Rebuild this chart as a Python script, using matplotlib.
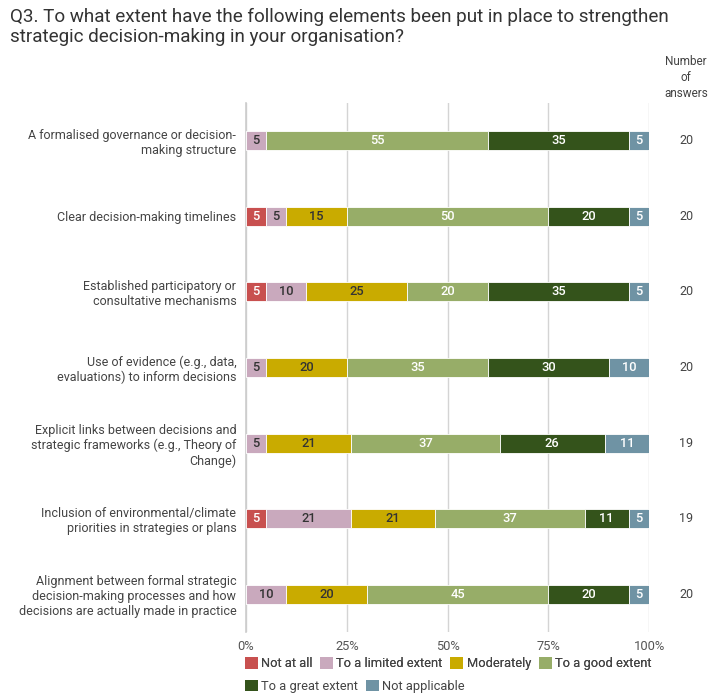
import matplotlib.pyplot as plt
from matplotlib.patches import Patch
import numpy as np

plt.rcParams['font.family'] = ['Roboto', 'DejaVu Sans']

# survey items, top to bottom
questions = [
    "A formalised governance or decision-\nmaking structure",
    "Clear decision-making timelines",
    "Established participatory or\nconsultative mechanisms",
    "Use of evidence (e.g., data,\nevaluations) to inform decisions",
    "Explicit links between decisions and\nstrategic frameworks (e.g., Theory of\nChange)",
    "Inclusion of environmental/climate\npriorities in strategies or plans",
    "Alignment between formal strategic\ndecision-making processes and how\ndecisions are actually made in practice",
]
levels = ["Not at all", "To a limited extent", "Moderately",
          "To a good extent", "To a great extent", "Not applicable"]

# percentage of answers per level
not_at_all = [0, 5, 5, 0, 0, 5, 0]
limited = [5, 5, 10, 5, 5, 21, 10]
moderately = [0, 15, 25, 20, 21, 21, 20]
good = [55, 50, 20, 35, 37, 37, 45]
great = [35, 20, 35, 30, 26, 11, 20]
not_applicable = [5, 5, 5, 10, 11, 5, 5]
n_answers = [20, 20, 20, 20, 19, 19, 20]

colors = ["#c8504f", "#c9a9bd", "#c9ab00", "#97ad68", "#34531b", "#6f93a4"]
text_colors = ["white", "#333333", "#333333", "white", "white", "white"]

series = [not_at_all, limited, moderately, good, great, not_applicable]

fig = plt.figure(figsize=(7.1, 6.98), dpi=100)
ax = fig.add_axes([0.3465, 0.0946, 0.5676, 0.7578])

y = np.arange(len(questions))
left = np.zeros(len(questions))
for vals, col, tcol in zip(series, colors, text_colors):
    vals = np.array(vals, dtype=float)
    ax.barh(y, vals, left=left, height=0.25, color=col,
            edgecolor="white", linewidth=0.6, zorder=3)
    for yi, (l, v) in enumerate(zip(left, vals)):
        if v > 0:
            ax.text(l + v / 2, yi, f"{int(v)}", ha="center", va="center",
                    fontsize=9.3, color=tcol, fontweight="medium", zorder=4)
    left += vals

ax.set_xlim(0, 100)
ax.set_ylim(len(questions) - 0.5, -0.5)
ax.set_xticks([0, 25, 50, 75, 100])
ax.set_xticklabels(["0%", "25%", "50%", "75%", "100%"], color="#555555",
                   fontsize=9.3)
ax.tick_params(axis="x", length=0, pad=6)
ax.set_yticks(y)
ax.set_yticklabels(questions, fontsize=9, color="#444444")
ax.tick_params(axis="y", length=0, pad=7)
ax.grid(axis="x", color="#d4d4d4", linewidth=1, zorder=0)
for s in ["top", "right", "bottom"]:
    ax.spines[s].set_visible(False)
ax.spines["left"].set_color("#cccccc")
ax.spines["left"].set_linewidth(1.2)

# answer counts column
for yi, n in enumerate(n_answers):
    ax.text(1.092, yi, str(n), transform=ax.get_yaxis_transform(),
            ha="center", va="center", fontsize=9, color="#444444")
fig.text(0.966, 0.889, "Number\nof\nanswers", ha="center", va="center",
         fontsize=8.5, color="#444444", linespacing=1.3)

fig.text(0.014, 0.988,
         "Q3. To what extent have the following elements been put in place to strengthen\n"
         "strategic decision-making in your organisation?",
         ha="left", va="top", fontsize=13.6, color="#333333", linespacing=1.1)

# legend in two rows
handles = [Patch(facecolor=c, edgecolor="none") for c in colors]
leg_kw = dict(frameon=False, handlelength=1.0, handleheight=1.0,
              handletextpad=0.25, columnspacing=0.6, fontsize=9.3,
              labelcolor="#444444", borderaxespad=0, borderpad=0)
leg1 = fig.legend(handles[:4], levels[:4], ncol=4, loc="center left",
                  bbox_to_anchor=(0.345, 0.049), **leg_kw)
fig.add_artist(leg1)
fig.legend(handles[4:], levels[4:], ncol=2, loc="center left",
           bbox_to_anchor=(0.345, 0.017), **leg_kw)

fig.savefig("out.png", dpi=100)
